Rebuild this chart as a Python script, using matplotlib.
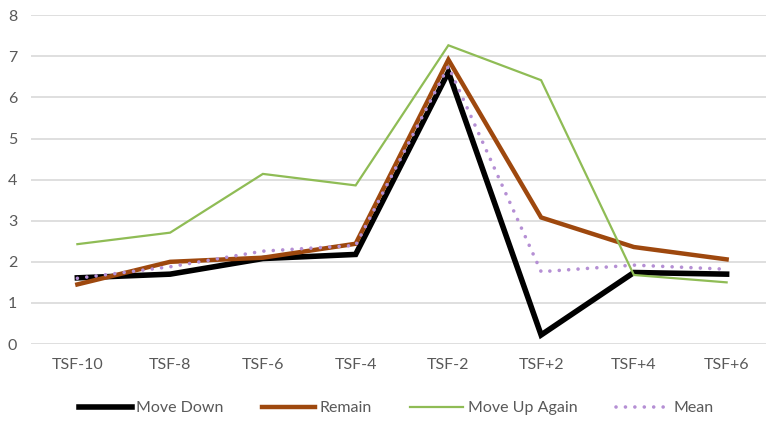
import matplotlib
matplotlib.use("Agg")
import matplotlib.pyplot as plt
from matplotlib.lines import Line2D

categories = ["TSF-10", "TSF-8", "TSF-6", "TSF-4", "TSF-2", "TSF+2", "TSF+4", "TSF+6"]
move_down = [1.61, 1.70, 2.08, 2.18, 6.62, 0.22, 1.74, 1.70]
remain = [1.45, 2.00, 2.10, 2.44, 6.92, 3.08, 2.36, 2.06]
move_up_again = [2.43, 2.71, 4.14, 3.86, 7.27, 6.42, 1.68, 1.50]
mean = [1.60, 1.88, 2.26, 2.40, 6.76, 1.76, 1.92, 1.82]
yticks = [0, 1, 2, 3, 4, 5, 6, 7, 8]

plt.rcParams["font.family"] = ["Lato", "DejaVu Sans"]
text_color = "#595959"

fig = plt.figure(figsize=(7.66, 4.21), dpi=100)
ax = fig.add_axes([31 / 766, 77 / 421, 742 / 766, 328.7 / 421])

x = list(range(len(categories)))
ax.plot(x, move_down, color="#000000", lw=4.0, solid_joinstyle="miter", label="Move Down", zorder=3)
ax.plot(x, remain, color="#9E480E", lw=3.2, solid_joinstyle="miter", label="Remain", zorder=4)
ax.plot(x, move_up_again, color="#8FBC55", lw=1.6, solid_joinstyle="miter", label="Move Up Again", zorder=5)
ax.plot(x, mean, color="#B58FD4", lw=2.6, linestyle=(0, (0.01, 2.6)), dash_capstyle="round",
        label="Mean", zorder=6)

ax.set_xlim(-0.5, len(categories) - 0.5)
ax.set_ylim(0, 8)
ax.set_yticks(yticks)
ax.set_xticks(x)
ax.set_xticklabels(categories)
ax.grid(axis="y", color="#D9D9D9", lw=1.2)
ax.set_axisbelow(True)
for s in ax.spines.values():
    s.set_visible(False)
ax.tick_params(axis="both", length=0, colors=text_color, labelsize=11.5)
ax.tick_params(axis="y", pad=10)
ax.tick_params(axis="x", pad=10)

handles = [
    Line2D([], [], color="#000000", lw=4.0),
    Line2D([], [], color="#9E480E", lw=3.2),
    Line2D([], [], color="#8FBC55", lw=1.6),
    Line2D([], [], color="#B58FD4", lw=2.6, linestyle=(0, (0.01, 2.6)), dash_capstyle="round"),
]
labels = ["Move Down", "Remain", "Move Up Again", "Mean"]
leg = fig.legend(handles, labels, loc="center", bbox_to_anchor=(396 / 766, 1 - 408 / 421),
                 ncol=4, frameon=False, fontsize=11.5, handlelength=3.3, handletextpad=0.3,
                 columnspacing=2.4)
for t in leg.get_texts():
    t.set_color(text_color)

fig.savefig("out.png", dpi=100)
